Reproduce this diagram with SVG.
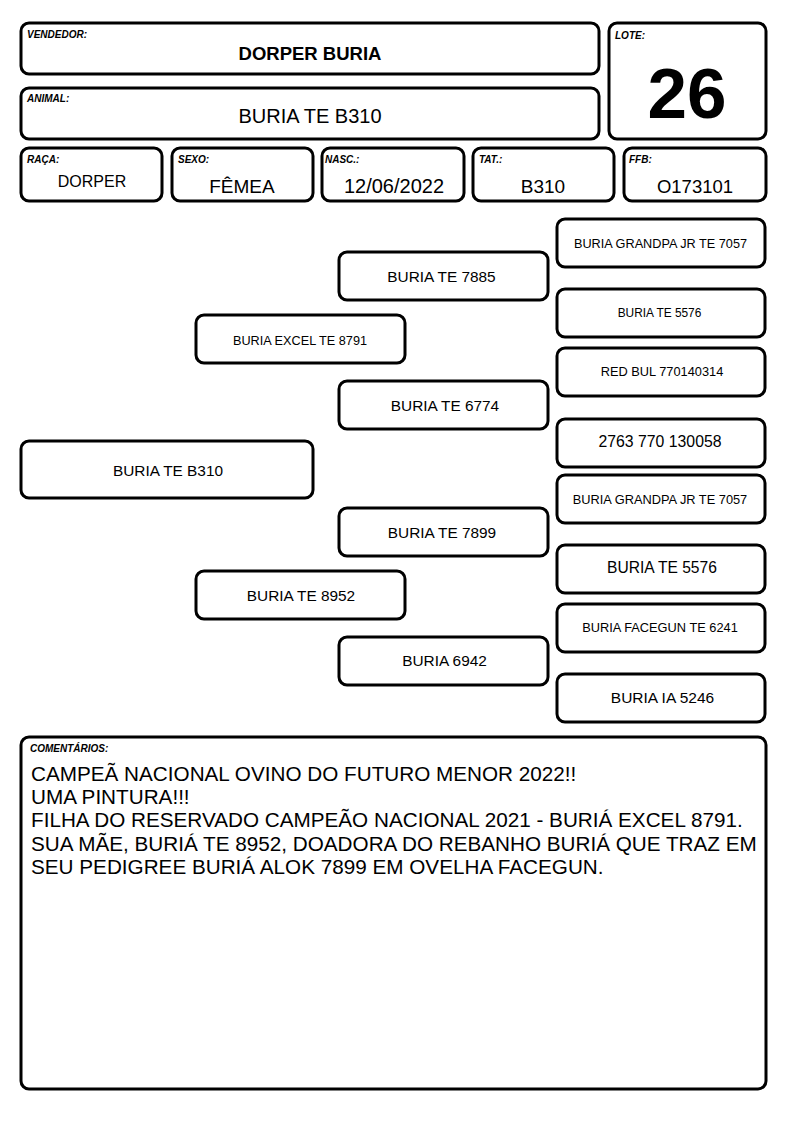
<svg xmlns="http://www.w3.org/2000/svg" width="794" height="1123" viewBox="0 0 794 1123">
<style>
.box{fill:#fff;stroke:#000;stroke-width:3}
.lbl{font-family:"Liberation Sans",Arial,sans-serif;font-weight:bold;font-style:italic;font-size:10px;fill:#000}
.t{font-family:"Liberation Sans",Arial,sans-serif;fill:#000;text-anchor:middle}
.c{font-family:"Liberation Sans",Arial,sans-serif;fill:#000;font-size:20.7px}
</style>
<rect x="0" y="0" width="794" height="1123" fill="#fff"/>
<g id="vendedor">
<rect class="box" x="21" y="23" width="578" height="51" rx="8"/>
<text class="lbl" x="27" y="38">VENDEDOR:</text>
<text class="t" x="310" y="60" font-size="18.5" font-weight="bold">DORPER BURIA</text>
</g>
<g id="animal">
<rect class="box" x="21" y="88" width="578" height="51" rx="8"/>
<text class="lbl" x="27" y="102">ANIMAL:</text>
<text class="t" x="310" y="123" font-size="20">BURIA TE B310</text>
</g>
<g id="lote">
<rect class="box" x="609" y="23" width="157" height="116" rx="8"/>
<text class="lbl" x="615" y="39">LOTE:</text>
<text class="t" x="687" y="118" font-size="71" font-weight="bold">26</text>
</g>
<g id="raca">
<rect class="box" x="21" y="148" width="141" height="53" rx="8"/>
<text class="lbl" x="27" y="163">RAÇA:</text>
<text class="t" x="92" y="187" font-size="16">DORPER</text>
</g>
<g id="sexo">
<rect class="box" x="172" y="148" width="141" height="53" rx="8"/>
<text class="lbl" x="178" y="163">SEXO:</text>
<text class="t" x="242" y="193" font-size="19">FÊMEA</text>
</g>
<g id="nasc">
<rect class="box" x="322" y="148" width="142" height="53" rx="8"/>
<text class="lbl" x="325" y="163">NASC.:</text>
<text class="t" x="394" y="193" font-size="20">12/06/2022</text>
</g>
<g id="tat">
<rect class="box" x="473" y="148" width="141" height="53" rx="8"/>
<text class="lbl" x="479" y="163">TAT.:</text>
<text class="t" x="543" y="193" font-size="19">B310</text>
</g>
<g id="ffb">
<rect class="box" x="624" y="148" width="142" height="53" rx="8"/>
<text class="lbl" x="629" y="163">FFB:</text>
<text class="t" x="695" y="193" font-size="18.5">O173101</text>
</g>
<g id="connectors"></g>
<g id="p-animal">
<rect class="box" x="21" y="441" width="292" height="57" rx="8"/>
<text class="t" x="168" y="476" font-size="15.4">BURIA TE B310</text>
</g>
<g id="p-pai">
<rect class="box" x="196" y="315" width="209" height="48" rx="8"/>
<text class="t" x="300" y="345" font-size="12.7">BURIA EXCEL TE 8791</text>
</g>
<g id="p-mae">
<rect class="box" x="196" y="571" width="209" height="48" rx="8"/>
<text class="t" x="301" y="600.7" font-size="15.4">BURIA TE 8952</text>
</g>
<g id="p-avo1">
<rect class="box" x="339" y="252" width="209" height="48" rx="8"/>
<text class="t" x="441.5" y="281.7" font-size="15.4">BURIA TE 7885</text>
</g>
<g id="p-avo2">
<rect class="box" x="339" y="381" width="209" height="48" rx="8"/>
<text class="t" x="445" y="410.7" font-size="15.4">BURIA TE 6774</text>
</g>
<g id="p-avo3">
<rect class="box" x="339" y="508" width="209" height="48" rx="8"/>
<text class="t" x="442" y="537.7" font-size="15.4">BURIA TE 7899</text>
</g>
<g id="p-avo4">
<rect class="box" x="339" y="637" width="209" height="48" rx="8"/>
<text class="t" x="444.5" y="665.7" font-size="15.4">BURIA 6942</text>
</g>
<g id="p-bis1">
<rect class="box" x="557" y="219" width="208" height="48" rx="8"/>
<text class="t" x="660.5" y="247.6" font-size="12.7">BURIA GRANDPA JR TE 7057</text>
</g>
<g id="p-bis2">
<rect class="box" x="557" y="289" width="208" height="48" rx="8"/>
<text class="t" x="659.5" y="317.3" font-size="11.9">BURIA TE 5576</text>
</g>
<g id="p-bis3">
<rect class="box" x="557" y="348" width="208" height="48" rx="8"/>
<text class="t" x="662" y="376" font-size="12.8">RED BUL 770140314</text>
</g>
<g id="p-bis4">
<rect class="box" x="557" y="419" width="208" height="48" rx="8"/>
<text class="t" x="660" y="447" font-size="15.8">2763 770 130058</text>
</g>
<g id="p-bis5">
<rect class="box" x="557" y="475" width="208" height="48" rx="8"/>
<text class="t" x="660" y="503.7" font-size="12.8">BURIA GRANDPA JR TE 7057</text>
</g>
<g id="p-bis6">
<rect class="box" x="557" y="545" width="208" height="48" rx="8"/>
<text class="t" x="662" y="572.7" font-size="15.6">BURIA TE 5576</text>
</g>
<g id="p-bis7">
<rect class="box" x="557" y="604" width="208" height="48" rx="8"/>
<text class="t" x="660" y="632.3" font-size="12.8">BURIA FACEGUN TE 6241</text>
</g>
<g id="p-bis8">
<rect class="box" x="557" y="674" width="208" height="48" rx="8"/>
<text class="t" x="662.5" y="703.3" font-size="15.5">BURIA IA 5246</text>
</g>
<g id="comentarios">
<rect class="box" x="21" y="737" width="745" height="352" rx="8"/>
<text class="lbl" x="30" y="752" font-size="10">COMENTÁRIOS:</text>
<text class="c" x="31" y="781">CAMPEÃ NACIONAL OVINO DO FUTURO MENOR 2022!!</text>
<text class="c" x="31" y="804">UMA PINTURA!!!</text>
<text class="c" x="31" y="827">FILHA DO RESERVADO CAMPEÃO NACIONAL 2021 - BURIÁ EXCEL 8791.</text>
<text class="c" x="31" y="850.5">SUA MÃE, BURIÁ TE 8952, DOADORA DO REBANHO BURIÁ QUE TRAZ EM</text>
<text class="c" x="31" y="874">SEU PEDIGREE BURIÁ ALOK 7899 EM OVELHA FACEGUN.</text>
</g>
</svg>
